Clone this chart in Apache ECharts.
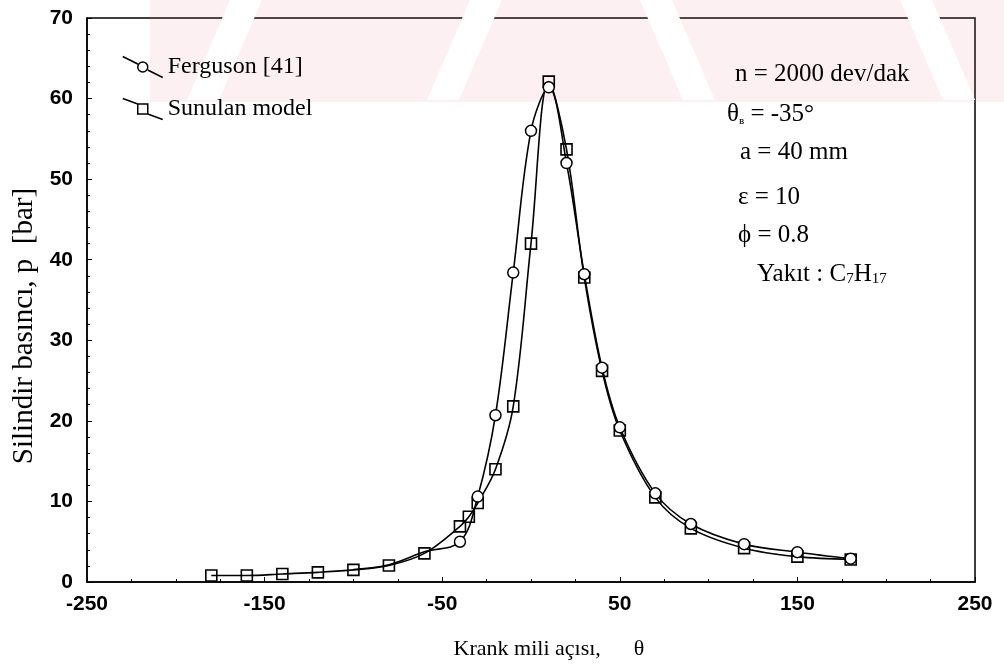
<!DOCTYPE html>
<html>
<head>
<meta charset="utf-8">
<script src="https://cdn.jsdelivr.net/npm/echarts@6/dist/echarts.min.js"></script>
<style>
  html, body { margin: 0; padding: 0; background: #fff; }
  #chart { width: 1004px; height: 670px; }
</style>
</head>
<body>
<div id="chart"></div>
<script>
// Sunulan model (kare işaretli)
const sunX = [-180, -160, -140, -120, -100, -80, -60, -40, -35, -30, -20, -10, 0, 10, 20, 30, 40, 50, 70, 90, 120, 150, 180]
const sunY = [0.8, 0.8, 1.0, 1.2, 1.5, 2.05, 3.55, 6.9, 8.1, 9.8, 14.0, 21.8, 42.0, 62.1, 53.7, 37.8, 26.2, 18.8, 10.5, 6.65, 4.2, 3.15, 2.8]

// Ferguson [41] (daire işaretli) - ilk üç nokta işaretsiz
const fergX = [-100, -80, -60, -40, -30, -20, -10, 0, 10, 20, 30, 40, 50, 70, 90, 120, 150, 180]
const fergY = [1.55, 2.15, 3.75, 5.0, 10.6, 20.7, 38.4, 56.0, 61.4, 52.0, 38.2, 26.6, 19.2, 11.0, 7.2, 4.7, 3.7, 2.9]
const fergHidden = 3

const xTicks = [-250, -150, -50, 50, 150, 250]
const yTicks = [0, 10, 20, 30, 40, 50, 60, 70]

const serif = '"Liberation Serif", "Times New Roman", serif'
const sans = '"Liberation Sans", Arial, sans-serif'

const chart = echarts.init(document.getElementById('chart'))

const markStyle = { color: '#fff', borderColor: '#000', borderWidth: 1.5 }
const pink = 'rgba(236, 120, 140, 0.11)'

// filigran: pembe bant ve beyaz eğik boşluklar
const wmGaps = [
  [[230, 0], [262, 0], [219, 100], [187, 100]],
  [[470, 0], [502, 0], [459, 100], [427, 100]],
  [[640, 0], [672, 0], [715, 100], [683, 100]],
  [[900, 0], [932, 0], [975, 100], [943, 100]]
]

const option = {
  backgroundColor: '#fff',
  animation: false,
  grid: {
    left: 87, right: 29, top: 18, bottom: 88,
    outerBoundsMode: 'none',
    show: true, borderColor: '#000', borderWidth: 1.5
  },
  legend: {
    orient: 'vertical',
    left: 117, top: 50,
    itemWidth: 40, itemHeight: 21,
    itemGap: 18,
    textStyle: { fontFamily: serif, fontSize: 24, color: '#000' },
    data: [
      {
        name: 'Ferguson [41]',
        icon: 'path://M0,0 L15,7.5 M25,13.5 L40,21 M25,10.5 A5,5 0 1,1 15,10.5 A5,5 0 1,1 25,10.5 Z',
        itemStyle: markStyle
      },
      {
        name: 'Sunulan model',
        icon: 'path://M0,0 L15,5.5 M25,15.5 L40,21 M15,5.5 L25,5.5 L25,15.5 L15,15.5 Z',
        itemStyle: markStyle
      }
    ]
  },
  xAxis: {
    type: 'value',
    min: -250, max: 250, interval: 100,
    name: 'Krank mili açısı,      θ',
    nameLocation: 'middle',
    nameGap: 56,
    nameTextStyle: { fontFamily: serif, fontSize: 22, color: '#000', padding: [0, 0, 0, 36] },
    axisLine: { onZero: false, lineStyle: { color: '#000', width: 1.5 } },
    axisTick: { inside: true, length: 5, lineStyle: { color: '#000' } },
    minorTick: { show: true, splitNumber: 4, length: 3, lineStyle: { color: '#000' } },
    splitLine: { show: false },
    axisLabel: {
      margin: 12,
      fontFamily: sans, fontWeight: 'bold', fontSize: 21, color: '#000',
      customValues: xTicks
    }
  },
  yAxis: {
    type: 'value',
    min: 0, max: 70, interval: 10,
    name: 'Silindir basıncı, p  [bar]',
    nameLocation: 'middle',
    nameGap: 48,
    nameTextStyle: { fontFamily: serif, fontSize: 29, color: '#000', padding: [0, 0, 0, -52] },
    axisLine: { show: true, onZero: false, lineStyle: { color: '#000', width: 1.5 } },
    axisTick: { show: true, inside: true, length: 5, lineStyle: { color: '#000' } },
    minorTick: { show: true, splitNumber: 5, length: 3, lineStyle: { color: '#000' } },
    splitLine: { show: false },
    axisLabel: {
      margin: 14,
      fontFamily: sans, fontWeight: 'bold', fontSize: 21, color: '#000',
      customValues: yTicks
    }
  },
  graphic: [
    {
      type: 'group', silent: true, z: -10,
      children: [
        { type: 'rect', shape: { x: 150, y: 0, width: 854, height: 102 }, style: { fill: pink } }
      ].concat(wmGaps.map(pts => ({
        type: 'polygon',
        shape: { points: pts },
        style: { fill: '#fff' }
      })))
    },
    {
      type: 'group',
      children: [
        { type: 'text', left: 735, top: 62, style: { text: 'n = 2000 dev/dak', font: '25px ' + serif, fill: '#000' } },
        {
          type: 'text', left: 727, top: 102,
          style: {
            text: 'θ{sub|в} = -35°', font: '25px ' + serif, fill: '#000',
            rich: { sub: { fontSize: 11, fontFamily: serif, verticalAlign: 'bottom', padding: [12, 0, 0, 0] } }
          }
        },
        { type: 'text', left: 740, top: 140, style: { text: 'a = 40 mm', font: '25px ' + serif, fill: '#000' } },
        { type: 'text', left: 738, top: 185, style: { text: 'ε = 10', font: '25px ' + serif, fill: '#000' } },
        { type: 'text', left: 738, top: 223, style: { text: 'ϕ = 0.8', font: '25px ' + serif, fill: '#000' } },
        {
          type: 'text', left: 757, top: 262,
          style: {
            text: 'Yakıt : C{sub|7}H{sub|17}', font: '25px ' + serif, fill: '#000',
            rich: { sub: { fontSize: 15, fontFamily: serif, verticalAlign: 'bottom', padding: [10, 0, 0, 0] } }
          }
        }
      ]
    }
  ],
  series: [
    {
      name: 'Ferguson [41]',
      type: 'line',
      smooth: 0.35,
      symbol: 'circle',
      symbolSize: 11,
      itemStyle: markStyle,
      lineStyle: { color: '#000', width: 1.6 },
      data: fergX.map((x, i) => i < fergHidden ? { value: [x, fergY[i]], symbol: 'none' } : [x, fergY[i]]),
      z: 3
    },
    {
      name: 'Sunulan model',
      type: 'line',
      smooth: 0.35,
      symbol: 'rect',
      symbolSize: 11,
      itemStyle: { color: 'rgba(255,255,255,0)', borderColor: '#000', borderWidth: 1.6 },
      lineStyle: { color: '#000', width: 1.6 },
      data: sunX.map((x, i) => [x, sunY[i]]),
      z: 2
    }
  ]
}

chart.setOption(option)
</script>
</body>
</html>
